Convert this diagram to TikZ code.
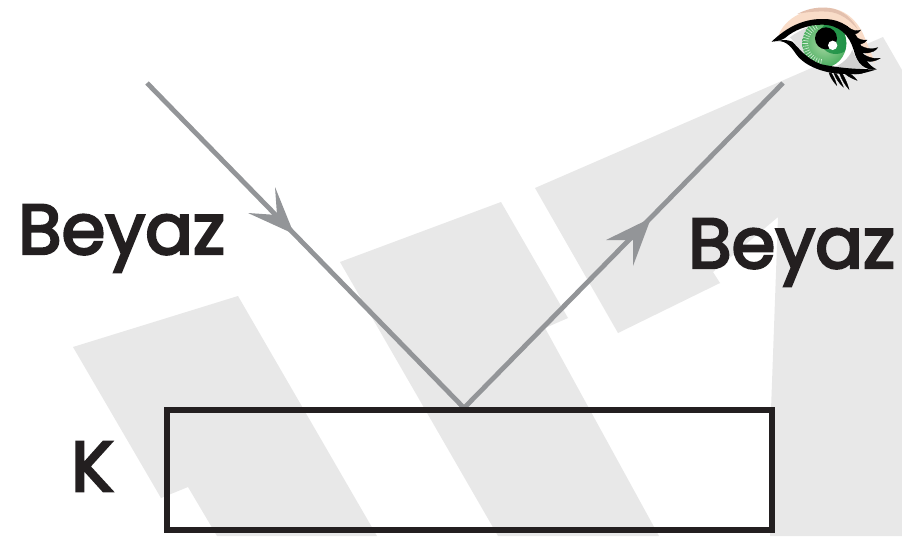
\documentclass[tikz,border=0pt]{standalone}
\usepackage{fontspec}
\newfontfamily\lblfont[FakeBold=3.5]{Poppins}
\definecolor{band}{HTML}{E8E8E8}
\definecolor{ray}{HTML}{939598}
\definecolor{ink}{HTML}{231F20}
\definecolor{peach}{HTML}{F9DCC8}
\definecolor{tan}{HTML}{E3C0AE}
\definecolor{irisin}{HTML}{A9D8A4}
\definecolor{irisout}{HTML}{3DA856}
\definecolor{irisdark}{HTML}{158C40}
\tikzset{
  bandfill/.style={fill=band,draw=none},
  raypath/.style={draw=ray,line width=3.6pt},
  rayhead/.style={fill=ray,draw=none},
  lbl/.style={text=ink,font=\lblfont\fontsize{53}{57}\selectfont,inner sep=0pt,anchor=base west},
  boxstyle/.style={draw=ink,line width=3.8pt,inner sep=0pt,minimum width=453.75pt,minimum height=90pt},
  lash/.style={fill=black,draw=black,line width=0.25pt}
}
\begin{document}
\begin{tikzpicture}[x=0.75pt,y=-0.75pt]
\useasboundingbox (0,0) rectangle (902,536);
\fill[white] (0,0) rectangle (902,536);
\path[bandfill] (73,347)--(238,296)--(377,536)--(217,536)--(188,487)--(161,498)--cycle;
\path[bandfill] (340,262)--(501,202)--(568,318)--(545,328)--(659,536)--(498,536)--cycle;
\path[bandfill] (535,188)--(883,37)--(902,70)--(902,536)--(770,536)--(771,410)--(778,217)--(713,272)--(720,283)--(618,333)--cycle;
\coordinate (start) at (147,83);
\coordinate (hit) at (464,408);
\coordinate (finish) at (783,83);
\draw[raypath] (start)--(hit)--(finish);
\path[rayhead] (294,234)--(248,213)--(277,215)--(275,187)--cycle;
\path[rayhead] (651,218)--(606,240)--(633,240)--(633,266)--cycle;
\node[boxstyle] (box) at (469.5,470) {};
\node[lbl] (b1) at (18,254) {Beyaz};
\node[lbl] (b2) at (688,268) {Beyaz};
\node[lbl] (k) at (71,491) {K};
\begin{scope}[shift={(765,0)},x=0.25pt,y=-0.25pt]
  \fill[peach] (40,108) .. controls (60,50) and (130,22) .. (190,24) .. controls (250,28) and (285,75) .. (300,115) .. controls (312,145) and (322,165) .. (330,190) -- (250,110) -- (120,70) -- cycle;
  \fill[tan] (97,42) .. controls (130,24) and (165,20) .. (195,24) .. controls (235,30) and (265,60) .. (278,88) .. controls (255,60) and (225,38) .. (190,35) .. controls (155,33) and (125,36) .. (97,42) -- cycle;
  \fill[white] (20,125) .. controls (70,75) and (130,62) .. (175,65) .. controls (240,70) and (275,120) .. (290,170) .. controls (300,190) and (320,205) .. (335,208) .. controls (280,220) and (200,220) .. (140,185) .. controls (100,160) and (80,120) .. (20,125) -- cycle;
  \fill[black!12] (75,112) .. controls (90,100) and (110,90) .. (130,80) .. controls (112,110) and (110,140) .. (122,165) .. controls (100,150) and (90,125) .. (75,112) -- cycle;
  \fill[black!18] (262,150) .. controls (250,180) and (215,205) .. (190,205) .. controls (225,215) and (265,215) .. (300,205) .. controls (280,190) and (270,170) .. (262,150) -- cycle;
  \begin{scope}
    \clip (178,130) ellipse [x radius=66,y radius=72];
    \shade[shading=radial,inner color=irisin,outer color=irisout] (178,130) circle (80);
    \fill[irisdark,opacity=.8] (212,112) circle (50);
    \foreach \a in {100,108,...,250}{\draw[white,line width=0.45pt,opacity=.75] (178,130) ++(\a:48) -- ++(\a:30);}
  \end{scope}
  \fill[black] (183,115) circle (33);
  \fill[white] (203,136) circle (14);
  \fill[black] (20,125) .. controls (60,86) and (110,57) .. (170,57) .. controls (232,55) and (274,90) .. (289,140) .. controls (296,170) and (307,195) .. (335,208) .. controls (298,213) and (276,190) .. (266,150) .. controls (253,107) and (225,74) .. (170,74) .. controls (125,74) and (85,92) .. (60,114) .. controls (48,122) and (35,123) .. (20,125) -- cycle;
  \fill[black] (20,125) .. controls (60,116) and (76,137) .. (93,162) .. controls (123,204) and (190,222) .. (240,222) .. controls (280,226) and (310,216) .. (335,208) .. controls (290,208) and (230,206) .. (170,193) .. controls (125,178) and (102,145) .. (82,125) .. controls (65,116) and (40,122) .. (20,125) -- cycle;
  \path[lash] (245,78)..controls (260,92) and (275,95)..(287,90)..controls (275,106) and (258,106)..(252,100)--cycle;
  \path[lash] (262,103)..controls (280,120) and (295,122)..(306,120)..controls (295,134) and (280,134)..(272,130)--cycle;
  \path[lash] (274,128)..controls (295,146) and (320,150)..(338,143)..controls (325,162) and (295,162)..(281,154)--cycle;
  \path[lash] (282,153)..controls (300,170) and (325,178)..(345,175)..controls (325,188) and (300,187)..(288,174)--cycle;
  \path[lash] (198,218)..controls (205,228) and (212,242)..(215,256)..controls (205,245) and (196,232)..(192,218)--cycle;
  \path[lash] (214,221)..controls (222,232) and (230,248)..(235,261)..controls (222,250) and (212,234)..(207,220)--cycle;
  \path[lash] (232,221)..controls (240,235) and (248,252)..(252,268)..controls (240,255) and (230,238)..(224,221)--cycle;
  \path[lash] (248,219)..controls (258,222) and (268,230)..(276,241)..controls (262,236) and (250,230)..(240,221)--cycle;
  \path[lash] (268,216)..controls (280,214) and (292,212)..(302,215)..controls (290,222) and (275,224)..(258,220)--cycle;
\end{scope}
\end{tikzpicture}
\end{document}
